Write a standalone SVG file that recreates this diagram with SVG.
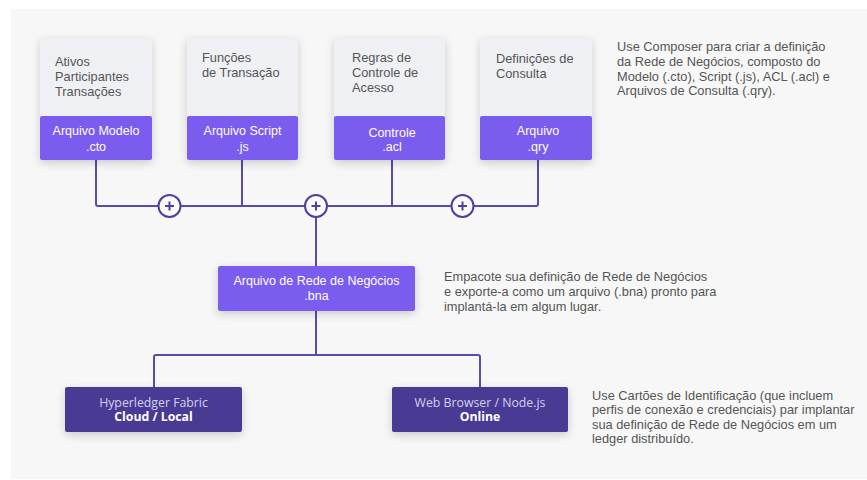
<svg xmlns="http://www.w3.org/2000/svg" width="867" height="480" viewBox="0 0 867 480">
<defs>
<filter id="sh" x="-20%" y="-30%" width="140%" height="170%">
<feDropShadow dx="0" dy="3" stdDeviation="4" flood-color="#000" flood-opacity="0.18"/>
</filter>
</defs>
<style>
.bg{fill:#f7f7f7}
.top{fill:#eff0f4}
.pur{fill:#7a5cef}
.dk{fill:#483a94}
.gt{font-family:"Liberation Sans",Arial,sans-serif;font-size:12.8px;fill:#555}
.wt{font-family:"Liberation Sans",Arial,sans-serif;font-size:12.5px;fill:#fff;text-anchor:middle}
.ot{font-family:"Open Sans",sans-serif;font-size:12.3px;text-anchor:middle}
.ln{fill:none;stroke:#5b4ba6;stroke-width:2}
.pl{fill:#fbfbfd;stroke:#4f3f9e;stroke-width:2}
.ps{stroke:#4f3f9e;stroke-width:2}
</style>
<rect class="bg" x="11" y="9" width="856" height="470"/>
<g id="connectors">
<path class="ln" d="M96 160 V204 Q96 206 98 206 H536 Q538 206 538 204 V160"/>
<path class="ln" d="M242 160 V206 M392 160 V206 M316 206 V266"/>
<path class="ln" d="M316 311 V355 M154 387 V357 Q154 355 156 355 H478 Q480 355 480 357 V387"/>
<g id="plus1"><circle class="pl" cx="169.5" cy="206" r="11"/><path class="ps" d="M165 206 H174 M169.5 201.5 V210.5"/></g>
<g id="plus2"><circle class="pl" cx="316" cy="206" r="11"/><path class="ps" d="M311.5 206 H320.5 M316 201.5 V210.5"/></g>
<g id="plus3"><circle class="pl" cx="462.5" cy="206" r="11"/><path class="ps" d="M458 206 H467 M462.5 201.5 V210.5"/></g>
</g>
<g id="card-cto" filter="url(#sh)">
<rect class="top" x="40" y="38" width="112" height="80"/>
<rect class="pur" x="40" y="116" width="112" height="44" rx="2"/>
</g>
<g id="card-cto-text">
<text class="gt" x="55" y="66">Ativos</text>
<text class="gt" x="55" y="81">Participantes</text>
<text class="gt" x="55" y="96">Transações</text>
<text class="wt" x="96" y="134.5">Arquivo Modelo</text>
<text class="wt" x="96" y="150.5">.cto</text>
</g>
<g id="card-js" filter="url(#sh)">
<rect class="top" x="187" y="38" width="111" height="80"/>
<rect class="pur" x="187" y="116" width="111" height="44" rx="2"/>
</g>
<g id="card-js-text">
<text class="gt" x="202" y="62">Funções</text>
<text class="gt" x="202" y="77">de Transação</text>
<text class="wt" x="242.5" y="134.5">Arquivo Script</text>
<text class="wt" x="242.5" y="150.5">.js</text>
</g>
<g id="card-acl" filter="url(#sh)">
<rect class="top" x="334" y="38" width="111" height="80"/>
<rect class="pur" x="334" y="116" width="111" height="44" rx="2"/>
</g>
<g id="card-acl-text">
<text class="gt" x="352" y="62">Regras de</text>
<text class="gt" x="352" y="77">Controle de</text>
<text class="gt" x="352" y="92">Acesso</text>
<text class="wt" x="392" y="137">Controle</text>
<text class="wt" x="392" y="150.5">.acl</text>
</g>
<g id="card-qry" filter="url(#sh)">
<rect class="top" x="480" y="38" width="112" height="80"/>
<rect class="pur" x="480" y="116" width="112" height="44" rx="2"/>
</g>
<g id="card-qry-text">
<text class="gt" x="496" y="63">Definições de</text>
<text class="gt" x="496" y="78">Consulta</text>
<text class="wt" x="538" y="135">Arquivo</text>
<text class="wt" x="538" y="150.5">.qry</text>
</g>
<g id="note-top">
<text class="gt" x="617" y="51">Use Composer para criar a definição</text>
<text class="gt" x="617" y="66">da Rede de Negócios, composto do</text>
<text class="gt" x="617" y="80.5">Modelo (.cto), Script (.js), ACL (.acl) e</text>
<text class="gt" x="617" y="95">Arquivos de Consulta (.qry).</text>
</g>
<g id="bna">
<rect class="pur" x="218" y="266" width="197" height="45" rx="2" filter="url(#sh)"/>
<text class="wt" x="316.5" y="284.5">Arquivo de Rede de Negócios</text>
<text class="wt" x="316.5" y="300">.bna</text>
</g>
<g id="note-bna">
<text class="gt" x="444" y="281">Empacote sua definição de Rede de Negócios</text>
<text class="gt" x="444" y="295.5">e exporte-a como um arquivo (.bna) pronto para</text>
<text class="gt" x="444" y="311">implantá-la em algum lugar.</text>
</g>
<g id="fabric">
<rect class="dk" x="65" y="387" width="177" height="45" rx="2" filter="url(#sh)"/>
<text class="ot" x="153.5" y="406.5" fill="#d4d0f0">Hyperledger Fabric</text>
<text class="ot" x="153.5" y="421" fill="#fff" font-weight="bold">Cloud / Local</text>
</g>
<g id="web">
<rect class="dk" x="392" y="387" width="176" height="45" rx="2" filter="url(#sh)"/>
<text class="ot" x="480" y="406.5" fill="#d4d0f0">Web Browser / Node.js</text>
<text class="ot" x="480" y="421" fill="#fff" font-weight="bold">Online</text>
</g>
<g id="note-deploy">
<text class="gt" x="592" y="399.5">Use Cartões de Identificação (que incluem</text>
<text class="gt" x="592" y="414">perfis de conexão e credenciais) par implantar</text>
<text class="gt" x="592" y="428.5">sua definição de Rede de Negócios em um</text>
<text class="gt" x="592" y="443">ledger distribuído.</text>
</g>
</svg>
